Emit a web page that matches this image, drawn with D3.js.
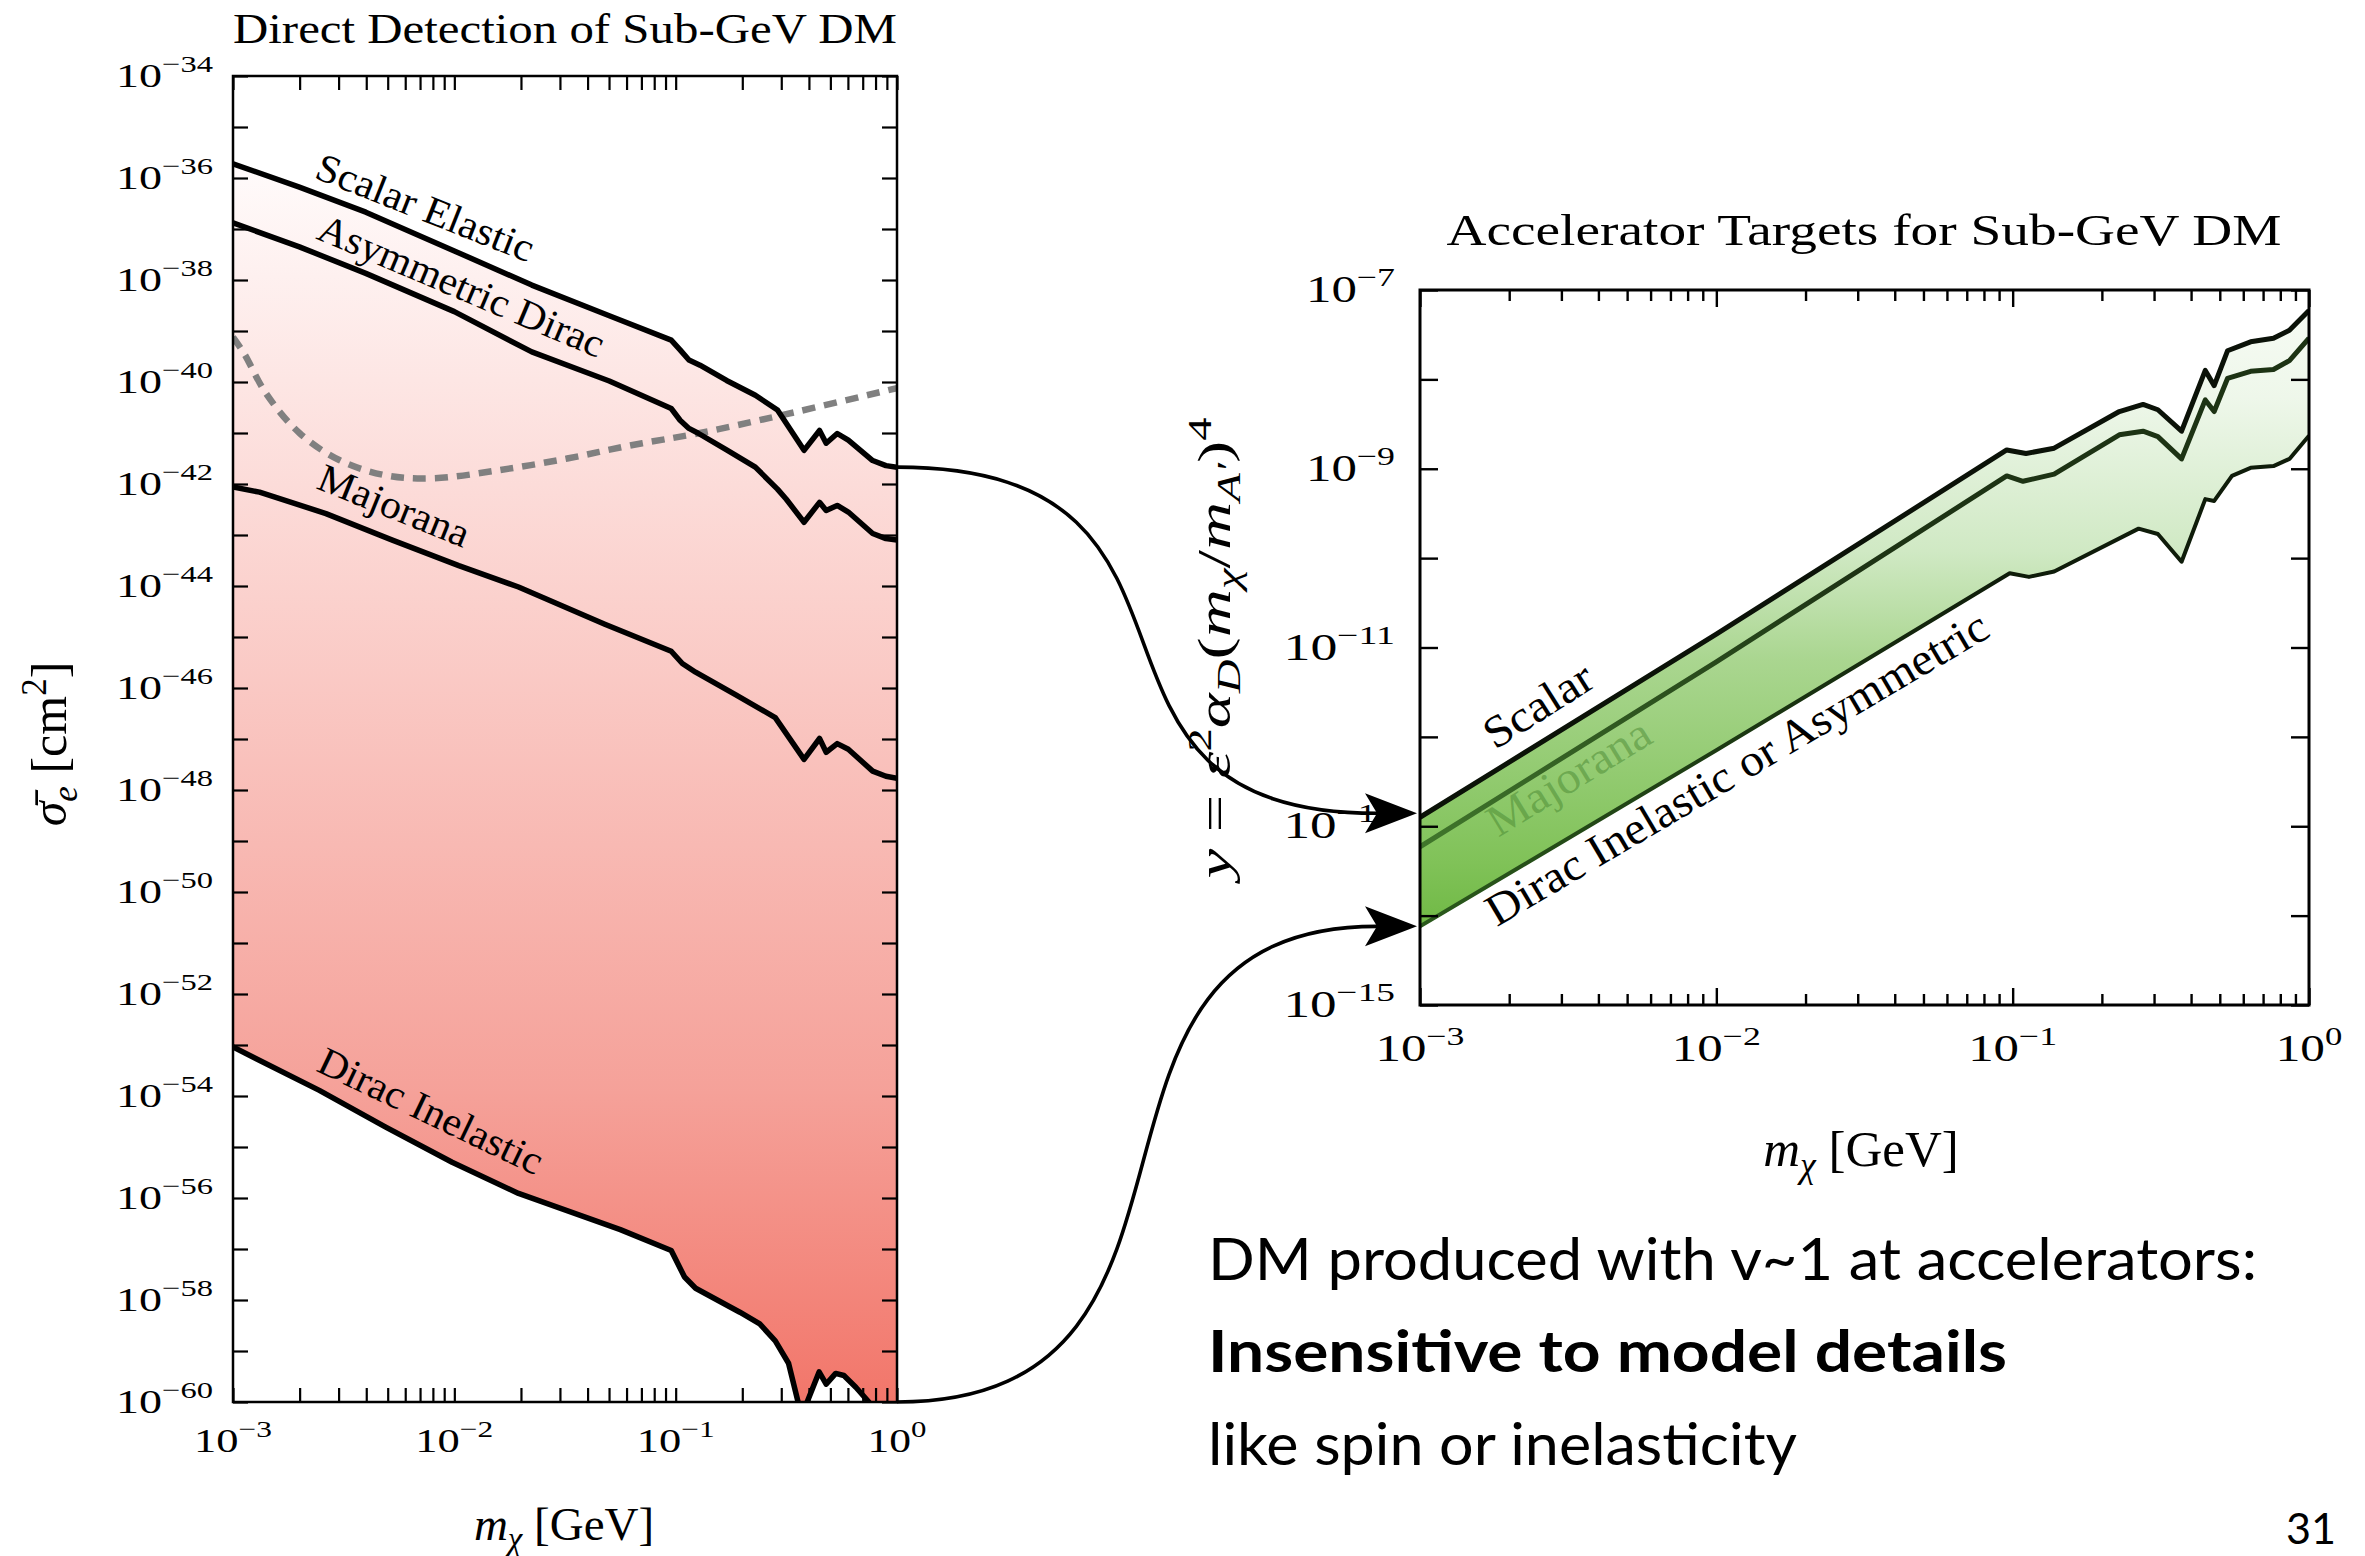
<!DOCTYPE html>
<html>
<head>
<meta charset="utf-8">
<script src="https://cdn.jsdelivr.net/npm/d3@7"></script>
<style>
  html, body { margin: 0; padding: 0; background: #fff; }
  svg { display: block; }
</style>
</head>
<body>
<svg id="slide" width="2365" height="1556"></svg>
<script>
// ---------------------------------------------------------------
// Direct-detection panel: points are (log10 m_chi/GeV, log10 sigma_e/cm^2)
// ---------------------------------------------------------------
const scalarElastic = [
  [-3, -35.72], [-2.7, -36.18], [-2.4, -36.67], [-2.0, -37.43], [-1.65, -38.10],
  [-1.3, -38.70], [-1.02, -39.18], [-0.98, -39.37], [-0.94, -39.57], [-0.89, -39.67],
  [-0.77, -39.97], [-0.64, -40.26], [-0.54, -40.55], [-0.42, -41.34], [-0.35, -40.95],
  [-0.32, -41.20], [-0.27, -41.01], [-0.22, -41.14], [-0.11, -41.54], [-0.05, -41.64],
  [0, -41.67]
];
const asymmetricDirac = [
  [-3, -36.88], [-2.7, -37.35], [-2.4, -37.87], [-2.0, -38.62], [-1.65, -39.41],
  [-1.3, -39.98], [-1.02, -40.52], [-0.98, -40.75], [-0.94, -40.91], [-0.9, -41.00],
  [-0.77, -41.33], [-0.64, -41.67], [-0.54, -42.10], [-0.5, -42.30], [-0.42, -42.75],
  [-0.35, -42.36], [-0.32, -42.52], [-0.27, -42.42], [-0.22, -42.55], [-0.11, -42.97],
  [-0.05, -43.07], [0, -43.10]
];
const majoranaDD = [
  [-3, -42.06], [-2.88, -42.16], [-2.58, -42.58], [-2.28, -43.10], [-1.98, -43.60],
  [-1.71, -44.02], [-1.32, -44.75], [-1.02, -45.28], [-0.97, -45.52], [-0.91, -45.69],
  [-0.73, -46.13], [-0.55, -46.58], [-0.42, -47.40], [-0.35, -46.99], [-0.32, -47.26],
  [-0.27, -47.09], [-0.22, -47.20], [-0.11, -47.63], [-0.05, -47.73], [0, -47.77]
];
const diracInelastic = [
  [-3, -53.04], [-2.61, -53.89], [-2.31, -54.61], [-2.01, -55.30], [-1.71, -55.91],
  [-1.25, -56.62], [-1.02, -57.03], [-0.96, -57.55], [-0.91, -57.77], [-0.71, -58.24],
  [-0.62, -58.47], [-0.55, -58.80], [-0.49, -59.24], [-0.447, -60.0], [-0.427, -60.4],
  [-0.406, -60.0], [-0.352, -59.41], [-0.32, -59.65], [-0.277, -59.44], [-0.24, -59.48],
  [-0.186, -59.71], [-0.127, -60.0], [-0.09, -60.4], [0, -61.0]
];
// projected experimental reach (dashed)
const detectorReach = [
  [-3, -39.12], [-2.95, -39.44], [-2.85, -40.23], [-2.7, -41.00], [-2.52, -41.53],
  [-2.31, -41.83], [-2.1, -41.89], [-1.8, -41.73], [-1.49, -41.50], [-1.2, -41.24],
  [-0.89, -41.00], [-0.52, -40.65], [0, -40.12]
];
const ddCurveNames = ["Scalar Elastic", "Asymmetric Dirac", "Majorana", "Dirac Inelastic"];
// label baseline start (log10 m, log10 sigma) and rotation
const ddLabelAnchors = [[-2.639, -35.99], [-2.63, -37.18], [-2.63, -42.08], [-2.63, -53.50]];
const ddLabelAngles = [21.6, 23.0, 22.0, 25.5];
const ddLabelLengths = [231, 307, 160, 244];

// ---------------------------------------------------------------
// Accelerator panel: points are (log10 m_chi/GeV, log10 y)
// ---------------------------------------------------------------
const scalarTarget = [
  [-3, -12.90], [-2, -10.85], [-1.02, -8.79], [-0.955, -8.83], [-0.86, -8.77],
  [-0.64, -8.36], [-0.56, -8.28], [-0.51, -8.34], [-0.43, -8.58], [-0.35, -7.90],
  [-0.32, -8.07], [-0.275, -7.68], [-0.197, -7.58], [-0.12, -7.54], [-0.066, -7.45],
  [0, -7.23]
];
const majoranaTarget = [
  [-3, -13.23], [-2, -11.16], [-1.02, -9.08], [-0.965, -9.14], [-0.86, -9.06],
  [-0.64, -8.62], [-0.56, -8.58], [-0.51, -8.64], [-0.43, -8.89], [-0.35, -8.23],
  [-0.32, -8.36], [-0.275, -7.99], [-0.197, -7.91], [-0.12, -7.89], [-0.066, -7.79],
  [0, -7.54]
];
const diracAsymTarget = [
  [-3, -14.12], [-2, -12.15], [-1.01, -10.17], [-0.945, -10.21], [-0.86, -10.15],
  [-0.575, -9.67], [-0.51, -9.73], [-0.43, -10.04], [-0.35, -9.34], [-0.32, -9.36],
  [-0.26, -9.08], [-0.197, -8.99], [-0.12, -8.97], [-0.066, -8.89], [0, -8.63]
];
const accCurveNames = ["Scalar", "Majorana", "Dirac Inelastic or Asymmetric"];
const accLabelAnchors = [[-2.747, -12.15], [-2.736, -13.13], [-2.741, -14.13]];
const accLabelAngles = [32.3, 31.6, 30.5];
const accLabelLengths = [121, 184, 575];

// tick-label exponents
const massLabelExps = [-3, -2, -1, 0];
const ddYLabelExps = [-60, -58, -56, -54, -52, -50, -48, -46, -44, -42, -40, -38, -36, -34];
const accYLabelExps = [-15, -13, -11, -9, -7];

// slide text
const noteLines = [
  "DM produced with v~1 at accelerators:",
  "Insensitive to model details",
  "like spin or inelasticity"
];
const pageNumber = "31";

// ---------------------------------------------------------------
const SERIF = "'Liberation Serif', 'Times New Roman', serif";
const SANS = "Lato, 'Open Sans', sans-serif";
const svg = d3.select("#slide");
const defs = svg.append("defs");

const toValues = arr => arr.map(([m, v]) => [10 ** m, 10 ** v]);
const expText = e => (e < 0 ? "\u2212" + (-e) : String(e));

const ddX = d3.scaleLog().domain([1e-3, 1]).range([233, 897]);
const ddY = d3.scaleLog().domain([1e-60, 1e-34]).range([1402, 76]);
const accX = d3.scaleLog().domain([1e-3, 1]).range([1420, 2309]);
const accY = d3.scaleLog().domain([1e-15, 1e-7]).range([1005, 290]);

// rich text helper: parts = [[string, mode]], mode: r, i, sup, sub, isup, isub
function richText(sel, parts, size) {
  let level = 0;
  parts.forEach(([t, m]) => {
    const sup = m.includes("sup"), sub = m.includes("sub");
    const target = sup ? -0.40 : sub ? 0.22 : 0;
    const ts = sel.append("tspan").text(t);
    if (target !== level) ts.attr("dy", (target - level) * size);
    level = target;
    if (sup || sub) ts.attr("font-size", size * 0.7);
    if (m === "i" || m === "isup" || m === "isub") ts.attr("font-style", "italic");
  });
}

// "10" with a raised exponent, stretched to the wide math-font proportions
function powerLabel(sel, e, size, supSize, raise, baseW, charW) {
  const ex = expText(e);
  sel.append("tspan").text("10");
  sel.append("tspan").attr("font-size", supSize).attr("dy", -raise).text(ex);
  sel.attr("textLength", baseW + charW * ex.length).attr("lengthAdjust", "spacingAndGlyphs");
}

function styleAxis(g, w) {
  g.select(".domain").remove();
  g.selectAll(".tick line").attr("stroke", "#000").attr("stroke-width", w);
}

// ============ Direct detection panel ============
const [dx0, dx1] = ddX.range();
const [dyB, dyT] = ddY.range();
defs.append("clipPath").attr("id", "ddClip").append("rect")
  .attr("x", dx0).attr("y", dyT).attr("width", dx1 - dx0).attr("height", dyB - dyT);

const sTop = toValues(scalarElastic), sBot = toValues(diracInelastic);
const ddGrad = defs.append("linearGradient").attr("id", "ddGrad")
  .attr("gradientUnits", "userSpaceOnUse")
  .attr("x1", 0).attr("x2", 0)
  .attr("y1", ddY(d3.max(sTop, d => d[1]))).attr("y2", dyB);
[[0, "#fffbfb"], [0.35, "#fbd1cd"], [0.75, "#f5a199"], [1, "#f2766a"]].forEach(([o, c]) =>
  ddGrad.append("stop").attr("offset", o).attr("stop-color", c));

const dd = svg.append("g");
const ddLine = d3.line().x(d => ddX(d[0])).y(d => ddY(d[1]));

dd.append("path")
  .attr("d", ddLine(sTop.concat(sBot.slice().reverse())) + "Z")
  .attr("fill", "url(#ddGrad)")
  .attr("clip-path", "url(#ddClip)");

dd.append("path")
  .attr("d", d3.line().x(d => ddX(d[0])).y(d => ddY(d[1])).curve(d3.curveCatmullRom)(toValues(detectorReach)))
  .attr("fill", "none").attr("stroke", "#808080").attr("stroke-width", 6.5)
  .attr("stroke-dasharray", "13 9").attr("clip-path", "url(#ddClip)");

[scalarElastic, asymmetricDirac, majoranaDD, diracInelastic].forEach(c => {
  dd.append("path").attr("d", ddLine(toValues(c)))
    .attr("fill", "none").attr("stroke", "#000").attr("stroke-width", 5.5)
    .attr("stroke-linejoin", "round").attr("clip-path", "url(#ddClip)");
});

ddCurveNames.forEach((name, i) => {
  const [m, v] = ddLabelAnchors[i];
  const x = ddX(10 ** m), y = ddY(10 ** v);
  dd.append("text")
    .attr("transform", `translate(${x},${y}) rotate(${ddLabelAngles[i]})`)
    .attr("font-family", SERIF).attr("font-size", 40).attr("fill", "#000")
    .attr("textLength", ddLabelLengths[i]).attr("lengthAdjust", "spacingAndGlyphs")
    .text(name);
});

// ticks, all pointing inward
const massTicks = ddX.ticks();
const ddDecades = d3.range(-60, -33).map(e => 10 ** e);
dd.append("g").attr("transform", `translate(0,${dyB})`)
  .call(d3.axisBottom(ddX).tickValues(massTicks).tickSize(-14).tickFormat(""))
  .call(g => styleAxis(g, 2.2));
dd.append("g").attr("transform", `translate(0,${dyT})`)
  .call(d3.axisTop(ddX).tickValues(massTicks).tickSize(-14).tickFormat(""))
  .call(g => styleAxis(g, 2.2));
dd.append("g").attr("transform", `translate(${dx0},0)`)
  .call(d3.axisLeft(ddY).tickValues(ddDecades).tickSize(-15).tickFormat(""))
  .call(g => styleAxis(g, 2.2));
dd.append("g").attr("transform", `translate(${dx1},0)`)
  .call(d3.axisRight(ddY).tickValues(ddDecades).tickSize(-15).tickFormat(""))
  .call(g => styleAxis(g, 2.2));
dd.append("rect").attr("x", dx0).attr("y", dyT).attr("width", dx1 - dx0).attr("height", dyB - dyT)
  .attr("fill", "none").attr("stroke", "#000").attr("stroke-width", 2.5);

dd.selectAll("text.ylab").data(ddYLabelExps).join("text").attr("class", "ylab")
  .attr("x", dx0 - 20).attr("y", e => ddY(10 ** e) + 11)
  .attr("text-anchor", "end").attr("font-family", SERIF).attr("font-size", 34)
  .each(function (e) { powerLabel(d3.select(this), e, 34, 24, 15, 40, 19); });

dd.selectAll("text.xlab").data(massLabelExps).join("text").attr("class", "xlab")
  .attr("x", e => ddX(10 ** e)).attr("y", dyB + 50)
  .attr("text-anchor", "middle").attr("font-family", SERIF).attr("font-size", 34)
  .each(function (e) { powerLabel(d3.select(this), e, 34, 24, 15, 40, 19); });

dd.append("text").attr("x", (dx0 + dx1) / 2).attr("y", 43)
  .attr("text-anchor", "middle").attr("font-family", SERIF).attr("font-size", 42)
  .attr("textLength", 664).attr("lengthAdjust", "spacingAndGlyphs")
  .text("Direct Detection of Sub-GeV DM");

dd.append("text").attr("x", 564).attr("y", 1540)
  .attr("text-anchor", "middle").attr("font-family", SERIF).attr("font-size", 47)
  .call(s => richText(s, [["m", "i"], ["\u03c7", "isub"], [" [GeV]", "r"]], 47));

dd.append("text").attr("transform", "translate(66,744) rotate(-90)")
  .attr("text-anchor", "middle").attr("font-family", SERIF).attr("font-size", 50)
  .call(s => richText(s, [["\u03c3\u0304", "i"], ["e", "isub"], [" [cm", "r"], ["2", "sup"], ["]", "r"]], 50));

// ============ Accelerator panel ============
const [ax0, ax1] = accX.range();
const [ayB, ayT] = accY.range();
defs.append("clipPath").attr("id", "accClip").append("rect")
  .attr("x", ax0).attr("y", ayT).attr("width", ax1 - ax0).attr("height", ayB - ayT);

const aTop = toValues(scalarTarget), aMid = toValues(majoranaTarget), aBot = toValues(diracAsymTarget);
const accGrad = defs.append("linearGradient").attr("id", "accGrad")
  .attr("gradientUnits", "userSpaceOnUse")
  .attr("x1", 0).attr("x2", 0)
  .attr("y1", ayT).attr("y2", accY(d3.min(aBot, d => d[1])));
[[0, "#f8fcf6"], [0.17, "#eef7ea"], [0.41, "#d0e9c4"], [0.58, "#aad690"], [0.9, "#80c258"], [1, "#70b945"]]
  .forEach(([o, c]) => accGrad.append("stop").attr("offset", o).attr("stop-color", c));

// line shading: dark in the upper part of the band, greener towards low masses
function strokeGrad(id, cTop, cBot) {
  const g = defs.append("linearGradient").attr("id", id)
    .attr("gradientUnits", "userSpaceOnUse")
    .attr("x1", 0).attr("x2", 0).attr("y1", ayT).attr("y2", accY(d3.min(aBot, d => d[1])));
  g.append("stop").attr("offset", 0).attr("stop-color", cTop);
  g.append("stop").attr("offset", 0.45).attr("stop-color", cTop);
  g.append("stop").attr("offset", 1).attr("stop-color", cBot);
}
strokeGrad("midStroke", "#1d3314", "#4a8a32");
strokeGrad("botStroke", "#0f1c0a", "#2b5a1c");

const acc = svg.append("g");
const accLine = d3.line().x(d => accX(d[0])).y(d => accY(d[1]));

acc.append("path")
  .attr("d", accLine(aTop.concat(aBot.slice().reverse())) + "Z")
  .attr("fill", "url(#accGrad)").attr("clip-path", "url(#accClip)");

[[aBot, "url(#botStroke)", 4], [aMid, "url(#midStroke)", 5], [aTop, "#0b1208", 5]].forEach(([pts, col, w]) => {
  acc.append("path").attr("d", accLine(pts))
    .attr("fill", "none").attr("stroke", col).attr("stroke-width", w)
    .attr("stroke-linejoin", "round").attr("clip-path", "url(#accClip)");
});

accCurveNames.forEach((name, i) => {
  const [m, v] = accLabelAnchors[i];
  const x = accX(10 ** m), y = accY(10 ** v);
  acc.append("text")
    .attr("transform", `translate(${x},${y}) rotate(${-accLabelAngles[i]})`)
    .attr("font-family", SERIF).attr("font-size", 45)
    .attr("fill", i === 1 ? "#3f7f2a" : "#000")
    .attr("fill-opacity", i === 1 ? 0.45 : 1)
    .attr("textLength", accLabelLengths[i]).attr("lengthAdjust", "spacingAndGlyphs")
    .text(name);
});

const accMassMajor = massTicks.filter(d => Number.isInteger(Math.round(Math.log10(d) * 1e6) / 1e6));
const accMassMinor = massTicks.filter(d => !accMassMajor.includes(d));
const accDecades = d3.range(-15, -6).map(e => 10 ** e);
[[accMassMinor, 11], [accMassMajor, 17]].forEach(([vals, len]) => {
  acc.append("g").attr("transform", `translate(0,${ayB})`)
    .call(d3.axisBottom(accX).tickValues(vals).tickSize(-len).tickFormat(""))
    .call(g => styleAxis(g, 2.4));
  acc.append("g").attr("transform", `translate(0,${ayT})`)
    .call(d3.axisTop(accX).tickValues(vals).tickSize(-len).tickFormat(""))
    .call(g => styleAxis(g, 2.4));
});
acc.append("g").attr("transform", `translate(${ax0},0)`)
  .call(d3.axisLeft(accY).tickValues(accDecades).tickSize(-18).tickFormat(""))
  .call(g => styleAxis(g, 2.4));
acc.append("g").attr("transform", `translate(${ax1},0)`)
  .call(d3.axisRight(accY).tickValues(accDecades).tickSize(-18).tickFormat(""))
  .call(g => styleAxis(g, 2.4));
acc.append("rect").attr("x", ax0).attr("y", ayT).attr("width", ax1 - ax0).attr("height", ayB - ayT)
  .attr("fill", "none").attr("stroke", "#000").attr("stroke-width", 3);

acc.selectAll("text.ylab").data(accYLabelExps).join("text").attr("class", "ylab")
  .attr("x", ax0 - 25).attr("y", e => accY(10 ** e) + 12)
  .attr("text-anchor", "end").attr("font-family", SERIF).attr("font-size", 37)
  .each(function (e) { powerLabel(d3.select(this), e, 37, 26, 16, 44, 22.5); });

acc.selectAll("text.xlab").data(massLabelExps).join("text").attr("class", "xlab")
  .attr("x", e => accX(10 ** e)).attr("y", ayB + 56)
  .attr("text-anchor", "middle").attr("font-family", SERIF).attr("font-size", 37)
  .each(function (e) { powerLabel(d3.select(this), e, 37, 26, 16, 44, 22.5); });

acc.append("text").attr("x", 1864).attr("y", 245)
  .attr("text-anchor", "middle").attr("font-family", SERIF).attr("font-size", 45)
  .attr("textLength", 835).attr("lengthAdjust", "spacingAndGlyphs")
  .text("Accelerator Targets for Sub-GeV DM");

acc.append("text").attr("x", 1861).attr("y", 1166)
  .attr("text-anchor", "middle").attr("font-family", SERIF).attr("font-size", 51)
  .call(s => richText(s, [["m", "i"], ["\u03c7", "isub"], [" [GeV]", "r"]], 51));

acc.append("text").attr("transform", "translate(1230,648) rotate(-90)")
  .attr("text-anchor", "middle").attr("font-family", SERIF).attr("font-size", 47)
  .attr("textLength", 461).attr("lengthAdjust", "spacingAndGlyphs")
  .call(s => richText(s, [
    ["y", "i"], [" = ", "r"], ["\u03b5", "i"], ["2", "sup"], ["\u03b1", "i"], ["D", "isub"],
    ["(", "r"], ["m", "i"], ["\u03c7", "isub"], ["/", "r"], ["m", "i"], ["A\u2032", "isub"],
    [")", "r"], ["4", "sup"]
  ], 47));

// ============ connectors between the panels ============
function connector(p0, tip) {
  const end = [tip[0] - 40, tip[1]];
  const dxs = end[0] - p0[0];
  const p = d3.path();
  p.moveTo(p0[0], p0[1]);
  p.bezierCurveTo(p0[0] + 0.75 * dxs, p0[1], end[0] - 0.72 * dxs, end[1], end[0], end[1]);
  svg.append("path").attr("d", p.toString())
    .attr("fill", "none").attr("stroke", "#000").attr("stroke-width", 3.6);
  const h = d3.path();
  h.moveTo(tip[0], tip[1]);
  h.lineTo(tip[0] - 52, tip[1] - 20);
  h.lineTo(tip[0] - 40, tip[1]);
  h.lineTo(tip[0] - 52, tip[1] + 20);
  h.closePath();
  svg.append("path").attr("d", h.toString()).attr("fill", "#000");
}
const sEnd = sTop[sTop.length - 1];
connector([ddX(sEnd[0]), ddY(sEnd[1])], [ax0 - 3, accY(aTop[0][1]) - 4]);
connector([ddX(1), dyB], [ax0 - 3, accY(aBot[0][1])]);

// ============ slide text ============
const noteY = [1280, 1372, 1465];
const noteW = [1049, 799, 589];
noteLines.forEach((t, i) => {
  svg.append("text").attr("x", 1208).attr("y", noteY[i])
    .attr("font-family", SANS).attr("font-size", 58)
    .attr("font-weight", i === 1 ? 700 : 400).attr("fill", "#000")
    .attr("textLength", noteW[i]).attr("lengthAdjust", "spacingAndGlyphs")
    .text(t);
});
svg.append("text").attr("x", 2336).attr("y", 1544).attr("text-anchor", "end")
  .attr("font-family", SANS).attr("font-size", 42)
  .attr("textLength", 50).attr("lengthAdjust", "spacingAndGlyphs")
  .text(pageNumber);
</script>
</body>
</html>
